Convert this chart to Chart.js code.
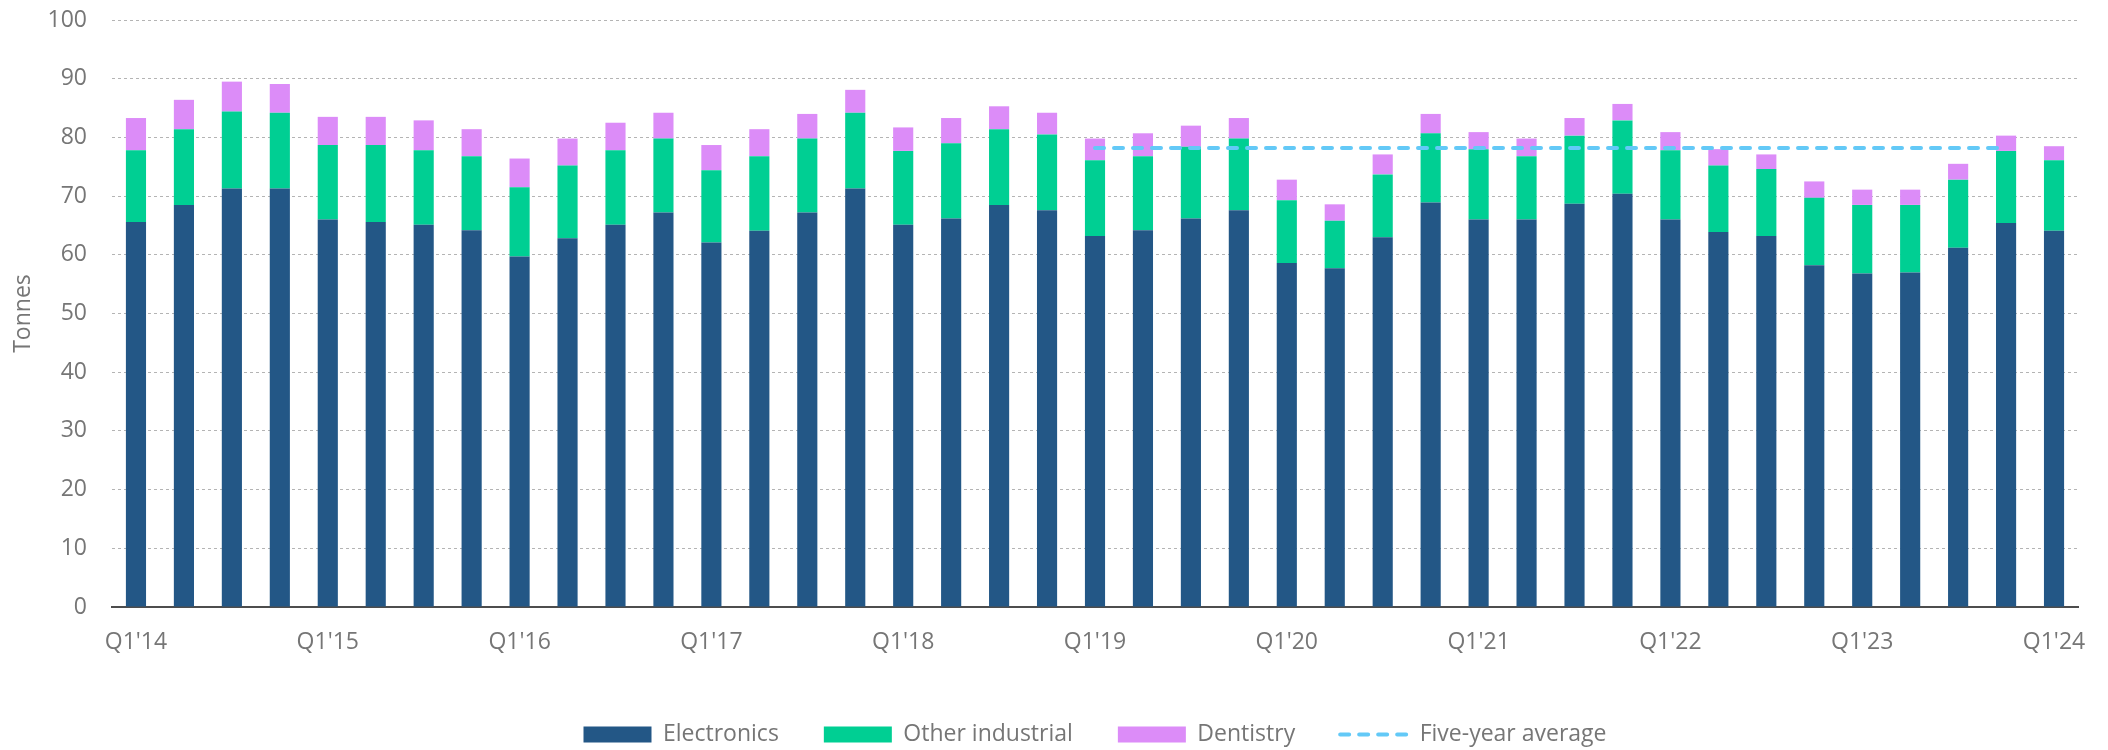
<!DOCTYPE html>
<html>
<head>
    <title>Tonnes by sector</title>
    <script src="https://cdn.jsdelivr.net/npm/chart.js"></script>
    <style>
        body {
            margin: 0;
            padding: 0;
            background-color: #ffffff;
        }
        canvas { display: block; }
    </style>
</head>
<body>
    <canvas id="demandChart" width="2108" height="750"></canvas>

    <script>
        // quarters, Q1'14 .. Q1'24
        const quarters = [
            "Q1'14", "Q2'14", "Q3'14", "Q4'14",
            "Q1'15", "Q2'15", "Q3'15", "Q4'15",
            "Q1'16", "Q2'16", "Q3'16", "Q4'16",
            "Q1'17", "Q2'17", "Q3'17", "Q4'17",
            "Q1'18", "Q2'18", "Q3'18", "Q4'18",
            "Q1'19", "Q2'19", "Q3'19", "Q4'19",
            "Q1'20", "Q2'20", "Q3'20", "Q4'20",
            "Q1'21", "Q2'21", "Q3'21", "Q4'21",
            "Q1'22", "Q2'22", "Q3'22", "Q4'22",
            "Q1'23", "Q2'23", "Q3'23", "Q4'23",
            "Q1'24"
        ];

        const electronics = [
            65.6, 68.5, 71.3, 71.3, 66.0, 65.6, 65.1, 64.2,
            59.7, 62.8, 65.1, 67.2, 62.1, 64.1, 67.2, 71.3,
            65.1, 66.2, 68.5, 67.6, 63.2, 64.2, 66.2, 67.6,
            58.6, 57.7, 63.0, 68.9, 66.0, 66.0, 68.7, 70.4,
            66.0, 63.9, 63.2, 58.2, 56.8, 57.0, 61.2, 65.4,
            64.1
        ];

        const otherIndustrial = [
            12.2, 12.9, 13.1, 12.9, 12.7, 13.1, 12.7, 12.6,
            11.8, 12.4, 12.7, 12.6, 12.3, 12.7, 12.6, 12.9,
            12.6, 12.8, 12.9, 12.9, 12.9, 12.6, 12.2, 12.2,
            10.7, 8.1, 10.7, 11.8, 12.0, 10.8, 11.6, 12.5,
            11.8, 11.3, 11.4, 11.5, 11.7, 11.5, 11.6, 12.3,
            12.0
        ];

        const dentistry = [
            5.5, 5.0, 5.1, 4.9, 4.8, 4.8, 5.1, 4.6,
            4.9, 4.6, 4.7, 4.4, 4.3, 4.6, 4.2, 3.9,
            4.0, 4.3, 3.9, 3.7, 3.7, 3.9, 3.6, 3.5,
            3.5, 2.8, 3.4, 3.3, 2.9, 3.0, 3.0, 2.8,
            3.1, 2.8, 2.5, 2.8, 2.6, 2.6, 2.7, 2.6,
            2.4
        ];

        // five-year average, drawn from Q1'19 to Q4'23
        const fiveYearAverage = 78.2;
        const averageFrom = "Q1'19";
        const averageTo = "Q4'23";

        const yMin = 0, yMax = 100, yStep = 10;

        const fromIdx = quarters.indexOf(averageFrom);
        const toIdx = quarters.indexOf(averageTo);
        const averageLine = quarters.map((q, i) => (i >= fromIdx && i <= toIdx) ? fiveYearAverage : null);

        const FONT = "'Open Sans', 'Noto Sans', sans-serif";
        const TEXT = '#767676';
        const DASH = [9, 10];

        // keep the legend centred on the plot area, like the original
        const centreLegend = {
            id: 'centreLegend',
            afterLayout(chart) {
                const lg = chart.legend;
                const ca = chart.chartArea;
                const dx = (ca.left + ca.right) / 2 - (lg.left + lg.right) / 2;
                lg.left += dx;
                lg.right += dx;
            }
        };

        const ctx = document.getElementById('demandChart').getContext('2d');
        const chart = new Chart(ctx, {
            type: 'bar',
            data: {
                labels: quarters,
                datasets: [
                    {
                        label: 'Electronics',
                        data: electronics,
                        backgroundColor: '#235786',
                        stack: 'total',
                        order: 1
                    },
                    {
                        label: 'Other industrial',
                        data: otherIndustrial,
                        backgroundColor: '#00cf93',
                        stack: 'total',
                        order: 1
                    },
                    {
                        label: 'Dentistry',
                        data: dentistry,
                        backgroundColor: '#dc8cf8',
                        stack: 'total',
                        order: 1
                    },
                    {
                        type: 'line',
                        label: 'Five-year average',
                        data: averageLine,
                        borderColor: '#63c9f7',
                        backgroundColor: '#63c9f7',
                        borderWidth: 4,
                        borderDash: DASH,
                        borderCapStyle: 'round',
                        pointRadius: 0,
                        fill: false,
                        stack: 'avg',
                        order: 0
                    }
                ]
            },
            options: {
                responsive: false,
                animation: false,
                datasets: {
                    bar: {
                        categoryPercentage: 0.42,
                        barPercentage: 1.0,
                        borderWidth: 0
                    }
                },
                layout: {
                    autoPadding: false,
                    padding: { left: 8, right: 30, top: 20, bottom: -6 }
                },
                scales: {
                    x: {
                        stacked: true,
                        grid: { display: false, drawTicks: false },
                        border: { display: true, color: '#4d4d4d', width: 2 },
                        ticks: {
                            autoSkip: false,
                            maxRotation: 0,
                            padding: 22,
                            color: TEXT,
                            font: { family: FONT, size: 23 },
                            callback: function(value, index) {
                                const q = quarters[index];
                                return q.startsWith('Q1') ? q : '';
                            }
                        },
                        afterFit(scale) {
                            scale.height = 71;
                        }
                    },
                    y: {
                        stacked: true,
                        min: yMin,
                        max: yMax,
                        grid: {
                            drawTicks: false,
                            color: (c) => c.tick && c.tick.value === 0 ? 'rgba(0,0,0,0)' : '#b4b4b4',
                            lineWidth: 1
                        },
                        border: { display: false, dash: [3, 3] },
                        ticks: {
                            stepSize: yStep,
                            padding: 25,
                            color: TEXT,
                            font: { family: FONT, size: 23 }
                        },
                        title: {
                            display: true,
                            text: 'Tonnes',
                            color: TEXT,
                            font: { family: FONT, size: 23 },
                            padding: { top: 2, bottom: 4 }
                        },
                        afterFit(scale) {
                            scale.width = 104;
                            // tick padding is horizontal here, don't let it push the top down
                            scale.paddingTop = 14;
                        }
                    }
                },
                plugins: {
                    legend: {
                        position: 'bottom',
                        labels: {
                            usePointStyle: true,
                            pointStyleWidth: 68,
                            boxHeight: 16,
                            padding: 45,
                            color: TEXT,
                            font: { family: FONT, size: 23 },
                            sort: (a, b) => a.datasetIndex - b.datasetIndex,
                            generateLabels(chart) {
                                const items = Chart.defaults.plugins.legend.labels.generateLabels(chart);
                                items.forEach(it => {
                                    const ds = chart.data.datasets[it.datasetIndex];
                                    if (ds.type === 'line') {
                                        it.pointStyle = 'line';
                                        it.strokeStyle = ds.borderColor;
                                        it.lineWidth = ds.borderWidth;
                                        it.lineDash = ds.borderDash;
                                        it.lineCap = 'round';
                                    } else {
                                        it.pointStyle = 'rect';
                                        it.lineWidth = 0;
                                    }
                                });
                                return items;
                            }
                        }
                    },
                    tooltip: { enabled: false }
                }
            },
            plugins: [centreLegend]
        });
    </script>
</body>
</html>
